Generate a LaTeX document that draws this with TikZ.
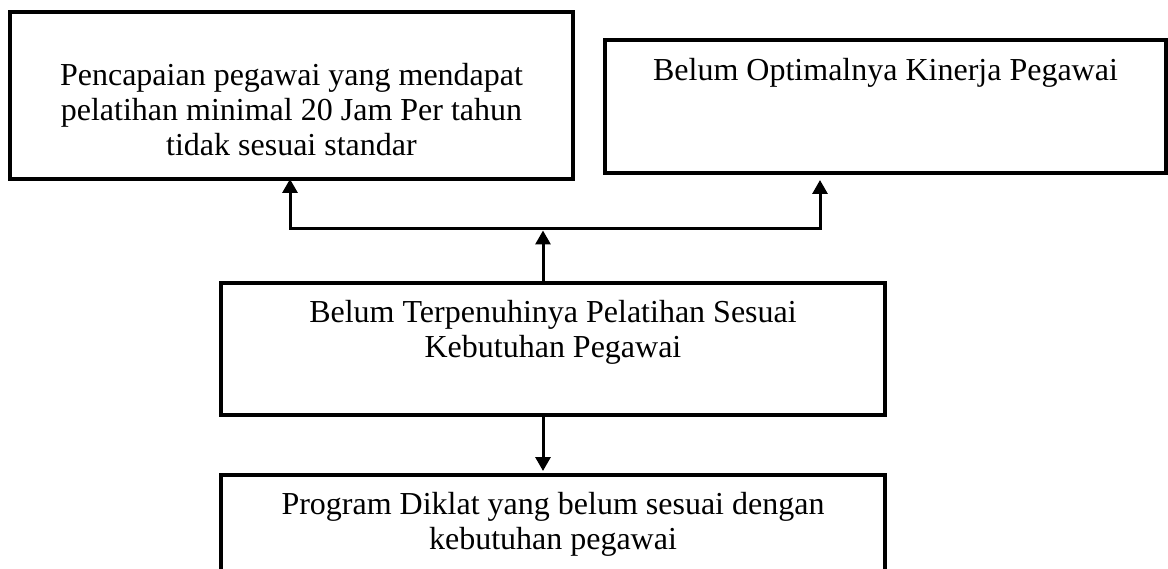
\documentclass[tikz,border=0pt]{standalone}
\usepackage{fontspec}
\setmainfont{Liberation Serif}
\usetikzlibrary{arrows.meta}

\begin{document}
\begin{tikzpicture}[  > = {Triangle[length=14pt,width=15pt]},  x = 1pt,  y = -1pt,  line width = 3pt,  font = \fontsize{32}{35}\selectfont,
  box/.style = {draw, line width=3.3pt, outer sep=0pt, inner sep=0pt},
  txt/.style = {align=center, inner sep=0pt}]
  \useasboundingbox (0,0) rectangle (1168,569);
  \clip (0,0) rectangle (1168,569);
  % Define nodes
  \node (A) [box, minimum width=563pt, minimum height=167pt] at (291.5,95.5) {};
  \node (B) [box, minimum width=561pt, minimum height=133pt] at (885.5,106.5) {};
  \node (C) [box, minimum width=664pt, minimum height=132pt] at (553,349) {};
  \node (D) [box, minimum width=664pt, minimum height=132pt] at (553,541) {};
  \node (At) [txt] at ([yshift=-14.5pt]A.center) {Pencapaian pegawai yang mendapat\\pelatihan minimal 20 Jam Per tahun\\tidak sesuai standar};
  \node (Bt) [txt] at ([yshift=33.5pt]B.center) {Belum Optimalnya Kinerja Pegawai};
  \node (Ct) [txt] at ([yshift=16.5pt]C.center) {Belum Terpenuhinya Pelatihan Sesuai\\Kebutuhan Pegawai};
  \node (Dt) [txt] at ([yshift=16.5pt]D.center) {Program Diklat yang belum sesuai dengan\\kebutuhan pegawai};
  \coordinate (L) at (290,229);
  \coordinate (M) at (543,229);
  \coordinate (R) at (820,229);

  % Draw arrows
  \draw[<->, shorten >=7pt] (A.south -| L) -- (L) -- (R) -- (B.south -| R);
  \draw[->, shorten >=1.5pt] (C.north -| M) -- (M);
  \draw[->, shorten >=4pt] (C.south -| M) -- (D.north -| M);
\end{tikzpicture}
\end{document}
